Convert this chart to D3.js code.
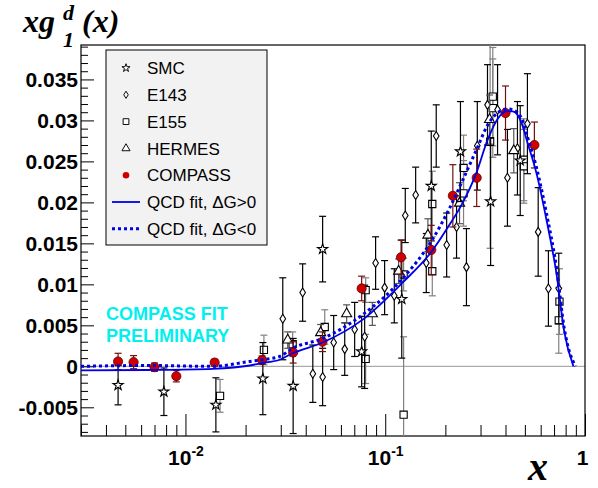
<!DOCTYPE html>
<html lang="en">
<head>
<meta charset="UTF-8">
<title>xg1d(x)</title>
<script src="https://d3js.org/d3.v7.min.js"></script>
<style>
  body { margin: 0; background: #fff; }
  svg { display: block; }
  .axis .tick text { font-family: "Liberation Sans", Arial, sans-serif; font-weight: bold; font-size: 21px; fill: #000; }
  .legend text { font-family: "Liberation Sans", Arial, sans-serif; font-size: 17px; fill: #000; }
</style>
</head>
<body>
<div id="chart"></div>
<script>
// --- data ---
const smcX   = [0.0046, 0.0078, 0.0142, 0.0244, 0.0346, 0.0486, 0.0762, 0.121, 0.170, 0.238, 0.337, 0.474];
const smcY   = [-0.0023, -0.0031, -0.0047, -0.0015, -0.0024, 0.0143, 0.0018, 0.0082, 0.0220, 0.0262, 0.0201, 0.0251];
const smcErr = [0.0024, 0.0029, 0.0033, 0.0044, 0.0058, 0.0040, 0.0043, 0.0072, 0.0067, 0.0061, 0.0078, 0.0067];

const e143X   = [0.0307, 0.0386, 0.0434, 0.0486, 0.0552, 0.0627, 0.0703, 0.0789, 0.0895, 0.0993, 0.111, 0.126, 0.142, 0.1605, 0.180, 0.203, 0.2275, 0.255, 0.289, 0.325, 0.365, 0.409, 0.459, 0.515, 0.583, 0.656, 0.739];
const e143Y   = [0.0058, 0.0090, -0.0009, -0.0013, 0.0029, 0.0021, 0.0045, 0.0036, 0.0126, 0.0096, 0.0086, 0.0184, 0.0209, 0.0126, 0.0281, 0.0148, 0.0170, 0.0121, 0.0269, 0.0319, 0.0313, 0.0230, 0.0266, 0.0296, 0.0164, 0.0095, 0.0095];
const e143Err = [0.0050, 0.0035, 0.0035, 0.0035, 0.0033, 0.0032, 0.0033, 0.0063, 0.0032, 0.0033, 0.0033, 0.0033, 0.0034, 0.0036, 0.0038, 0.0039, 0.0038, 0.0047, 0.0054, 0.0049, 0.0055, 0.0059, 0.0057, 0.0061, 0.0054, 0.0046, 0.0043];

const e155X   = [0.0149, 0.0247, 0.0344, 0.0498, 0.0798, 0.0798, 0.1236, 0.1236, 0.172, 0.172, 0.2466, 0.2466, 0.335, 0.3455, 0.3455, 0.494, 0.494, 0.739, 0.745];
const e155Y   = [-0.0036, 0.0020, 0.0027, 0.0048, 0.0093, 0.0009, 0.0112, -0.0059, 0.0198, 0.0116, 0.0242, 0.0211, 0.0274, 0.0329, 0.0315, 0.0252, 0.0244, 0.0056, 0.0079];
const e155Err = [0.0020, 0.0018, 0.0015, 0.0021, 0.0015, 0.0030, 0.0020, 0.0095, 0.0040, 0.0030, 0.0040, 0.0040, 0.0130, 0.0060, 0.0060, 0.0050, 0.0045, 0.0040, 0.0040];

const hermesX   = [0.0325, 0.0475, 0.0641, 0.0862, 0.1167, 0.1635, 0.2355, 0.3327, 0.440];
const hermesY   = [0.0032, 0.0041, 0.0064, 0.0064, 0.0116, 0.0160, 0.0199, 0.0301, 0.0263];
const hermesErr = [0.0010, 0.0010, 0.0011, 0.0014, 0.0015, 0.0020, 0.0025, 0.0030, 0.0027];

const compassX   = [0.0046, 0.0055, 0.0070, 0.0090, 0.0140, 0.0242, 0.0346, 0.0485, 0.0762, 0.120, 0.170, 0.218, 0.287, 0.400, 0.558];
const compassY   = [0.00059, 0.00051, -0.0001, -0.0012, 0.00046, 0.00076, 0.0017, 0.0030, 0.0095, 0.0133, 0.0142, 0.0208, 0.0230, 0.0309, 0.0270];
const compassErr = [0.0010, 0.0008, 0.0005, 0.0007, 0.0004, 0.0005, 0.0013, 0.0012, 0.0015, 0.0021, 0.0030, 0.0038, 0.0035, 0.0033, 0.0028];

// QCD fit curves
const fitPosX = [0.003, 0.0064, 0.0137, 0.021, 0.0241, 0.0296, 0.0344, 0.0486, 0.0771, 0.122, 0.1706, 0.210, 0.241, 0.286, 0.325, 0.373, 0.405, 0.434, 0.481, 0.515, 0.571, 0.641, 0.719, 0.789, 0.875];
const fitPosY = [-0.0005, -0.00045, -0.0003, 0.0001, 0.0004, 0.0008, 0.0016, 0.0029, 0.0057, 0.0102, 0.0140, 0.0173, 0.0197, 0.0236, 0.0276, 0.0305, 0.0311, 0.0311, 0.0297, 0.0273, 0.0236, 0.0179, 0.0114, 0.0041, 0.0];
const fitNegX = [0.003, 0.0064, 0.0137, 0.021, 0.0241, 0.0296, 0.0344, 0.0486, 0.0771, 0.122, 0.1706, 0.210, 0.241, 0.286, 0.325, 0.373, 0.405, 0.434, 0.481, 0.515, 0.571, 0.641, 0.719, 0.789, 0.895];
const fitNegY = [0.0, 0.0001, 0.0, 0.0006, 0.0008, 0.0012, 0.0022, 0.0034, 0.0063, 0.0107, 0.0153, 0.0193, 0.0224, 0.0264, 0.0294, 0.0311, 0.0314, 0.0313, 0.0303, 0.0280, 0.0243, 0.0187, 0.0121, 0.0045, 0.0];

// ticks
const yMajorTicks = [-0.005, 0, 0.005, 0.01, 0.015, 0.02, 0.025, 0.03, 0.035];
const yTickLabels = ["-0.005", "0", "0.005", "0.01", "0.015", "0.02", "0.025", "0.03", "0.035"];
const xMajorTicks = [0.01, 0.1, 1];
const xTickBase = ["10", "10", "1"];
const xTickExp  = ["-2", "-1", ""];
const legendLabels = ["SMC", "E143", "E155", "HERMES", "COMPASS", "QCD fit, \u0394G>0", "QCD fit, \u0394G<0"];

const W = 598, H = 488;
const frame = { left: 81, right: 585, top: 45, bottom: 436 };

const svg = d3.select("#chart").append("svg")
    .attr("width", W).attr("height", H);

const x = d3.scaleLog().domain([0.003, 1]).range([frame.left, frame.right]);
const y = d3.scaleLinear().domain([-0.0085, 0.0392]).range([frame.bottom, frame.top]);

svg.append("clipPath").attr("id", "clip")
  .append("rect")
    .attr("x", frame.left).attr("y", frame.top)
    .attr("width", frame.right - frame.left).attr("height", frame.bottom - frame.top);

// zero line
svg.append("line")
    .attr("x1", frame.left).attr("x2", frame.right)
    .attr("y1", y(0)).attr("y2", y(0))
    .attr("stroke", "#999").attr("stroke-width", 1);

// y axis (ticks inward)
const yMinor = d3.range(-8, 40).map(d => d / 1000).filter(d => !yMajorTicks.some(m => Math.abs(m - d) < 1e-9));
svg.append("g").attr("class", "axis")
    .attr("transform", `translate(${frame.left},0)`)
    .call(d3.axisLeft(y).tickValues(yMinor).tickSize(-7).tickFormat(""))
    .call(g => g.select(".domain").remove());
svg.append("g").attr("class", "axis")
    .attr("transform", `translate(${frame.left},0)`)
    .call(d3.axisLeft(y).tickValues(yMajorTicks).tickSize(-13).tickPadding(3)
        .tickFormat((d, i) => yTickLabels[i]))
    .call(g => g.select(".domain").remove());

// x axis (log, ticks inward)
const xMinor = [];
[0.001, 0.01, 0.1].forEach(dec => { for (let k = 2; k <= 9; k++) { const v = dec * k; if (v >= 0.003 && v < 1) xMinor.push(v); } });
svg.append("g").attr("class", "axis")
    .attr("transform", `translate(0,${frame.bottom})`)
    .call(d3.axisBottom(x).tickValues(xMinor).tickSize(-11).tickFormat(""))
    .call(g => g.select(".domain").remove());
const xAx = svg.append("g").attr("class", "axis")
    .attr("transform", `translate(0,${frame.bottom})`)
    .call(d3.axisBottom(x).tickValues(xMajorTicks).tickSize(-22).tickPadding(14).tickFormat(""))
    .call(g => g.select(".domain").remove());
xAx.selectAll(".tick text").each(function (d, i) {
  const t = d3.select(this);
  t.append("tspan").text(xTickBase[i]);
  if (xTickExp[i]) t.append("tspan").attr("dy", -9).attr("font-size", 14).text(xTickExp[i]);
});
xAx.selectAll(".tick").filter(d => d === 1).select("text").attr("dx", -3);

svg.selectAll(".axis .tick line").attr("stroke", "#000");

// frame
svg.append("rect")
    .attr("x", frame.left).attr("y", frame.top)
    .attr("width", frame.right - frame.left).attr("height", frame.bottom - frame.top)
    .attr("fill", "none").attr("stroke", "#000").attr("stroke-width", 1.2);

// markers
const diamondPath = "M0,-4.5L2.8,0L0,4.5L-2.8,0Z";
const shapes = {
  star: d3.symbol().type(d3.symbolStar).size(32)(),
  diamond: diamondPath,
  square: d3.symbol().type(d3.symbolSquare).size(52)(),
  triangle: d3.symbol().type(d3.symbolTriangle).size(44)()
};

const plot = svg.append("g").attr("clip-path", "url(#clip)");

function drawSet(xs, ys, errs, opts) {
  const data = xs.map((v, i) => ({ x: v, y: ys[i], e: errs[i] }));
  const g = plot.append("g");
  const bars = g.selectAll("g.bar").data(data).join("g").attr("class", "bar")
      .attr("stroke", opts.barColor).attr("stroke-width", 1.2);
  bars.append("line")
      .attr("x1", d => x(d.x)).attr("x2", d => x(d.x))
      .attr("y1", d => y(d.y - d.e)).attr("y2", d => y(d.y + d.e));
  bars.append("line")
      .attr("x1", d => x(d.x) - 3.5).attr("x2", d => x(d.x) + 3.5)
      .attr("y1", d => y(d.y + d.e)).attr("y2", d => y(d.y + d.e));
  bars.append("line")
      .attr("x1", d => x(d.x) - 3.5).attr("x2", d => x(d.x) + 3.5)
      .attr("y1", d => y(d.y - d.e)).attr("y2", d => y(d.y - d.e));
  if (opts.shape === "circle") {
    g.selectAll("circle").data(data).join("circle")
        .attr("cx", d => x(d.x)).attr("cy", d => y(d.y)).attr("r", 4.6)
        .attr("fill", "#d00000").attr("stroke", "#5a0000").attr("stroke-width", 0.8);
  } else {
    g.selectAll("path").data(data).join("path")
        .attr("d", shapes[opts.shape])
        .attr("transform", d => `translate(${x(d.x)},${y(d.y)})`)
        .attr("fill", "#fff").attr("stroke", "#000").attr("stroke-width", 1.1);
  }
}

drawSet(e155X, e155Y, e155Err, { shape: "square", barColor: "#808080" });
drawSet(e143X, e143Y, e143Err, { shape: "diamond", barColor: "#000" });
drawSet(hermesX, hermesY, hermesErr, { shape: "triangle", barColor: "#555" });
drawSet(smcX, smcY, smcErr, { shape: "star", barColor: "#000" });
drawSet(compassX, compassY, compassErr, { shape: "circle", barColor: "#701010" });

// fit curves
const line = d3.line().x(d => x(d[0])).y(d => y(d[1])).curve(d3.curveMonotoneX);
plot.append("path")
    .datum(fitNegX.map((v, i) => [v, fitNegY[i]]))
    .attr("d", line).attr("fill", "none")
    .attr("stroke", "#0000e6").attr("stroke-width", 3).attr("stroke-dasharray", "3,3");
plot.append("path")
    .datum(fitPosX.map((v, i) => [v, fitPosY[i]]))
    .attr("d", line).attr("fill", "none")
    .attr("stroke", "#0000e6").attr("stroke-width", 1.8);

// preliminary tag
const prelim = svg.append("g")
    .attr("font-family", "'Liberation Sans', Arial, sans-serif")
    .attr("font-weight", "bold").attr("font-size", 18).attr("fill", "#00f0f0");
prelim.append("text").attr("x", 106).attr("y", 319.5).text("COMPASS FIT");
prelim.append("text").attr("x", 106).attr("y", 341.5).text("PRELIMINARY");

// legend
const lg = svg.append("g").attr("class", "legend");
lg.append("rect")
    .attr("x", 106).attr("y", 50).attr("width", 161).attr("height", 195)
    .attr("fill", "#f2f2f2").attr("stroke", "#000").attr("stroke-width", 1);
const rowY = i => 68 + i * 26.8;
legendLabels.forEach((lab, i) => {
  lg.append("text").attr("x", 147).attr("y", rowY(i)).attr("dy", "0.36em").text(lab);
});
["star", "diamond", "square", "triangle"].forEach((s, i) => {
  lg.append("path").attr("d", shapes[s])
      .attr("transform", `translate(126,${rowY(i)}) scale(0.8)`)
      .attr("fill", "#fff").attr("stroke", "#000").attr("stroke-width", 1.2);
});
lg.append("circle").attr("cx", 126).attr("cy", rowY(4)).attr("r", 3.3).attr("fill", "#d00000");
lg.append("line").attr("x1", 112).attr("x2", 140).attr("y1", rowY(5)).attr("y2", rowY(5))
    .attr("stroke", "#0000e6").attr("stroke-width", 1.8);
lg.append("line").attr("x1", 112).attr("x2", 140).attr("y1", rowY(6)).attr("y2", rowY(6))
    .attr("stroke", "#0000e6").attr("stroke-width", 3).attr("stroke-dasharray", "3,3");

// axis titles
const serif = "'Liberation Serif', 'Times New Roman', serif";
svg.append("text")
    .attr("font-family", serif).attr("font-weight", "bold").attr("font-style", "italic").attr("font-size", 32)
    .attr("x", 23).attr("y", 32).text("xg");
svg.append("text")
    .attr("font-family", serif).attr("font-weight", "bold").attr("font-style", "italic").attr("font-size", 22)
    .attr("x", 63).attr("y", 20).text("d");
svg.append("text")
    .attr("font-family", serif).attr("font-weight", "bold").attr("font-style", "italic").attr("font-size", 22)
    .attr("x", 63).attr("y", 47).text("1");
svg.append("text")
    .attr("font-family", serif).attr("font-weight", "bold").attr("font-style", "italic").attr("font-size", 32)
    .attr("x", 82).attr("y", 32).text("(x)");

svg.append("text")
    .attr("font-family", serif).attr("font-weight", "bold").attr("font-style", "italic").attr("font-size", 40)
    .attr("text-anchor", "end").attr("x", 548).attr("y", 480).text("x");
</script>
</body>
</html>
